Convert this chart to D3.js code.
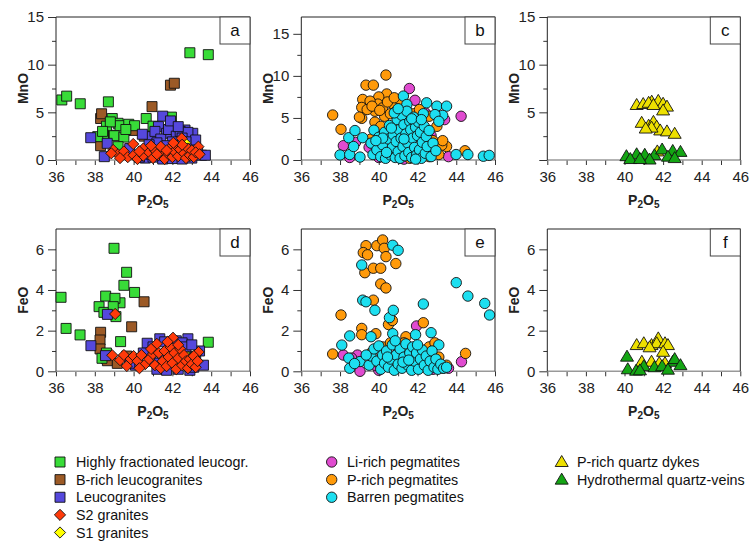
<!DOCTYPE html>
<html><head><meta charset="utf-8">
<script src="https://cdn.jsdelivr.net/npm/d3@7"></script>
<style>
body{margin:0;background:#fff;}
svg{display:block;font-family:"Liberation Sans",Arial,Helvetica,sans-serif;}
</style></head>
<body><svg id="chart" width="750" height="542"></svg>
<script>
// ---------- DATA (P2O5, value) ----------
const xTickValues = [36,37,38,39,40,41,42,43,44,45,46];
const xTickLabels = [36,38,40,42,44,46];
const mnoMajor = [0,5,10,15];
const mnoMinor = [2.5,7.5,12.5];
const feoMajor = [0,2,4,6];
const feoMinor = [1,3,5];
const panelLetters = ["a","b","c","d","e","f"];

const legendGranites = ["Highly fractionated leucogr.","B-rich leucogranites","Leucogranites","S2 granites","S1 granites"];
const legendPegmatites = ["Li-rich pegmatites","P-rich pegmatites","Barren pegmatites"];
const legendQuartz = ["P-rich quartz dykes","Hydrothermal quartz-veins"];

// Panel a (MnO)
const hflMnO = [[36.3,6.3],[36.55,6.7],[37.25,5.9],[38.7,6.1],[42.9,11.25],[43.85,11.05],[40.65,4.35],[41.95,4.5],[38.9,4.35],[39.2,3.85],[39.3,3.6],[39.75,3.75],[40.05,3.6],[38.6,3.55],[38.45,2.6],[38.15,2.45],[39.0,2.55],[39.5,2.4],[41.0,3.55],[39.2,1.4],[38.8,4.0],[39.6,3.2],[38.4,3.0]];
const brichMnO = [[41.9,7.85],[42.1,8.05],[40.95,5.6],[40.55,2.5],[38.3,4.35],[38.35,4.85],[38.3,1.5],[39.8,3.5],[40.0,3.1],[38.95,2.6]];
const leucoMnO = [[41.5,4.6],[41.95,3.55],[40.93,2.45],[41.28,3.5],[41.7,2.8],[42.65,3.15],[43.05,2.8],[43.5,0.5],[43.7,0.5],[41.1,3.0],[41.4,2.2],[41.8,3.2],[42.2,2.5],[42.4,3.0],[42.8,2.9],[42.5,2.3],[42.0,1.9],[41.6,1.5],[41.2,1.8],[40.8,1.6],[40.5,0.9],[40.6,0.2],[41.0,0.3],[41.5,0.1],[42.0,0.15],[42.5,0.1],[43.0,0.2],[43.3,0.8],[42.9,1.5],[42.3,1.2],[41.8,0.9],[41.3,0.8],[40.9,0.6],[43.2,2.1],[42.7,1.9],[38.49,0.35],[38.64,1.75],[37.79,2.34],[39.8,1.2],[40.3,0.3],[40.45,2.7],[41.9,4.1],[42.3,3.5]];
const s1MnO = [[42.65,1.8],[42.3,0.9],[41.6,0.6],[42.9,0.4]];
const s2MnO = [[38.95,1.05],[39.2,0.6],[39.98,1.68],[40.5,1.2],[42.48,2.27],[43.34,1.4],[39.5,0.9],[39.7,0.3],[40.0,0.5],[40.2,0.1],[40.5,0.45],[40.8,0.8],[41.0,0.2],[41.1,1.0],[41.3,0.5],[41.5,0.9],[41.6,0.1],[41.8,0.6],[41.9,1.3],[42.0,0.3],[42.1,0.9],[42.2,1.5],[42.3,0.4],[42.4,1.1],[42.6,0.7],[42.7,0.2],[42.8,1.2],[42.9,0.5],[43.0,1.0],[43.1,0.3],[43.2,0.8],[41.4,1.4],[40.9,1.5],[41.7,1.0],[42.5,1.6],[39.3,0.2],[40.3,0.9],[41.2,0.6],[42.05,1.8],[43.4,0.6],[38.85,0.7]];

// Panel d (FeO)
const hflFeO = [[36.26,3.64],[36.52,2.11],[37.24,1.79],[38.99,6.05],[39.64,4.87],[39.5,4.23],[40.05,3.88],[39.3,3.37],[38.56,3.7],[38.22,3.18],[38.47,2.9],[39.04,3.59],[38.95,3.18],[39.09,2.69],[39.33,1.46],[43.85,1.43],[38.37,0.64],[38.6,0.9],[42.78,0.72]];
const brichFeO = [[40.54,3.42],[39.9,2.19],[38.3,1.92],[38.27,1.54],[38.27,1.1],[38.58,0.64],[38.65,0.52],[39.16,0.39],[39.65,0.75],[39.9,0.48]];
const leucoFeO = [[37.8,1.26],[38.55,0.77],[38.65,2.8],[40.7,1.38],[41.35,1.6],[42.8,1.6],[43.4,1.0],[43.6,0.3],[40.1,0.3],[41.0,1.2],[41.6,1.45],[41.9,1.3],[42.2,1.5],[42.5,1.4],[42.7,1.2],[43.0,1.3],[43.2,0.7],[41.2,0.1],[41.7,0.05],[42.3,0.1],[42.9,0.05],[40.9,0.5],[41.5,0.8],[42.0,0.9],[42.6,0.6],[43.1,0.2],[40.5,0.9],[41.3,0.4],[39.8,0.4],[42.4,0.35]];
const s1FeO = [[42.8,0.7],[42.4,0.4],[41.7,0.3]];
const s2FeO = [[39.05,2.82],[38.9,0.79],[39.65,0.26],[42.03,1.65],[43.35,0.95],[39.3,0.55],[39.5,0.8],[39.85,0.6],[40.0,0.75],[40.2,0.5],[40.4,0.8],[40.6,0.35],[40.8,0.6],[41.0,0.85],[41.1,0.3],[41.3,0.9],[41.4,0.15],[41.5,0.5],[41.6,1.0],[41.7,0.25],[41.8,0.7],[41.9,1.2],[42.0,0.4],[42.1,0.9],[42.2,0.1],[42.3,0.65],[42.4,1.1],[42.5,0.3],[42.6,0.8],[42.7,0.5],[42.8,0.15],[42.9,0.6],[43.0,0.35],[43.1,0.75],[43.2,0.2],[43.3,0.5],[41.2,1.35],[40.9,1.1],[42.3,1.3],[41.75,1.45],[40.3,0.15]];

// Panel b (MnO)
const liMnO = [[41.58,8.5],[41.87,7.1],[44.25,5.2],[38.17,1.7],[38.5,0.3],[40.0,0.3],[43.4,4.8],[42.7,2.9],[43.6,0.4],[38.8,2.1],[39.5,1.5],[42.4,5.6],[41.3,0.1],[42.2,0.8]];
const prichMnO = [[37.62,5.35],[38.05,3.65],[39.34,8.9],[39.72,8.9],[40.37,10.1],[40.41,7.85],[40.0,7.5],[39.17,7.2],[39.12,6.25],[39.95,6.65],[39.55,7.0],[40.72,6.7],[41.1,7.1],[40.9,5.8],[39.12,4.95],[39.8,4.5],[40.3,5.2],[39.8,5.8],[43.5,1.6],[43.25,1.75],[44.45,1.1],[43.1,0.65],[43.0,4.0],[39.0,5.1],[40.2,6.2],[40.6,5.5],[39.4,6.0],[40.1,4.0],[40.45,6.9],[41.4,6.2],[41.8,5.5],[42.0,4.8],[42.6,5.2],[42.3,1.2],[42.6,0.4],[42.8,2.3],[41.6,0.2],[40.6,0.9],[39.6,2.5],[41.2,3.2],[42.1,6.0],[40.8,7.4],[39.65,6.4],[40.05,5.9],[43.3,2.3]];
const barrenMnO = [[38.0,0.6],[38.5,0.65],[38.45,2.65],[38.77,3.5],[38.7,1.6],[39.03,0.35],[39.17,2.65],[39.7,0.65],[39.75,3.55],[43.99,0.65],[44.6,0.65],[45.4,0.45],[45.7,0.55],[41.27,7.6],[42.47,6.8],[43.0,6.4],[43.5,6.4],[43.3,5.3],[41.45,6.6],[39.6,2.0],[39.9,1.2],[40.0,2.7],[40.1,0.4],[40.2,1.8],[40.3,3.3],[40.35,0.2],[40.5,2.5],[40.55,4.1],[40.6,0.6],[40.7,1.5],[40.75,3.0],[40.85,0.3],[40.9,2.2],[40.95,4.8],[41.0,1.0],[41.05,3.6],[41.1,0.2],[41.15,2.6],[41.2,5.3],[41.25,1.6],[41.3,4.2],[41.35,0.5],[41.4,3.1],[41.45,5.8],[41.5,2.0],[41.55,0.9],[41.6,4.6],[41.65,3.6],[41.7,0.3],[41.75,2.6],[41.8,5.1],[41.85,1.5],[41.9,3.9],[41.95,0.6],[42.0,2.9],[42.05,4.5],[42.1,1.2],[42.15,3.3],[42.2,0.2],[42.25,2.1],[42.3,5.5],[42.35,4.0],[42.4,0.8],[42.45,2.8],[42.5,1.6],[42.6,3.5],[42.7,0.4],[42.8,2.0],[42.9,5.4],[42.95,1.1],[43.1,4.6],[40.4,0.9],[40.8,5.6],[41.0,6.1],[40.65,3.8],[41.7,4.9],[41.3,2.5],[41.9,0.1],[40.2,2.6],[42.2,4.8],[39.85,2.3]];

// Panel e (FeO)
const liFeO = [[41.95,2.23],[44.27,0.47],[38.17,0.8],[38.9,0.8],[39.03,0.0],[40.0,0.05],[38.6,0.65],[42.8,0.1],[43.6,0.15],[41.1,0.6],[39.8,0.3]];
const prichFeO = [[37.62,0.85],[38.05,2.77],[39.34,6.18],[39.2,5.84],[39.42,5.73],[39.28,4.85],[39.72,5.07],[39.9,6.18],[40.2,6.46],[40.28,6.05],[40.37,5.64],[40.1,5.07],[40.88,5.3],[40.1,4.3],[40.37,4.1],[39.72,3.5],[42.3,2.39],[40.5,2.3],[39.12,2.11],[39.12,1.8],[44.48,0.88],[39.85,1.85],[40.2,1.2],[40.6,1.4],[41.0,0.9],[41.4,1.7],[42.6,1.2],[42.9,1.4],[43.1,0.7],[43.5,0.3],[40.0,0.4],[41.8,0.3],[42.4,0.6],[40.7,2.5],[39.6,0.9],[43.3,0.15],[41.3,1.4]];
const barrenFeO = [[38.09,1.29],[38.5,1.74],[38.45,0.65],[38.5,0.15],[39.03,0.48],[38.75,0.38],[39.12,5.23],[39.17,3.5],[39.34,3.42],[39.8,3.0],[40.72,6.2],[41.0,5.95],[40.55,2.64],[40.75,3.0],[44.0,4.36],[44.6,3.7],[45.47,3.34],[45.72,2.77],[42.3,3.31],[42.7,1.9],[43.1,1.3],[40.72,1.85],[41.9,1.8],[39.6,1.7],[39.5,0.3],[39.6,0.75],[39.75,1.1],[39.9,0.5],[40.0,1.25],[40.1,0.1],[40.2,0.8],[40.3,0.4],[40.4,1.0],[40.5,0.2],[40.6,0.6],[40.7,1.3],[40.8,0.05],[40.9,0.8],[41.0,0.35],[41.1,1.1],[41.2,0.15],[41.3,0.7],[41.4,1.35],[41.5,0.3],[41.6,0.9],[41.7,0.05],[41.75,1.2],[41.85,0.5],[41.95,0.9],[42.05,0.1],[42.15,0.6],[42.25,1.05],[42.35,0.3],[42.45,0.75],[42.55,0.05],[42.65,0.5],[42.75,1.0],[42.85,0.2],[42.95,0.6],[43.05,0.1],[43.2,0.35],[43.35,0.15],[43.5,0.2],[40.45,0.7],[41.25,0.45],[42.0,1.3],[41.55,0.55],[39.35,0.8],[40.85,1.5]];

// Panel c (MnO)
const dykeMnO = [[40.63,5.77],[40.97,5.87],[41.41,6.12],[41.75,6.2],[42.0,5.9],[42.2,5.6],[41.25,6.0],[41.5,5.77],[42.0,5.2],[40.89,3.9],[41.25,3.6],[41.5,4.0],[41.67,3.5],[41.85,3.1],[42.2,3.0],[42.6,2.75],[41.4,3.4],[41.1,3.3],[41.7,0.9]];
const veinMnO = [[40.1,0.4],[40.63,0.6],[41.05,0.55],[41.55,0.5],[41.95,1.1],[42.5,0.95],[42.9,0.85],[42.25,0.35],[40.3,0.1],[41.3,0.05],[42.6,0.2],[40.8,0.1]];
// Panel f (FeO)
const dykeFeO = [[40.63,1.29],[41.0,1.38],[41.4,1.29],[41.75,1.62],[41.67,1.38],[42.1,1.38],[42.25,1.29],[41.3,1.18],[42.0,0.96],[40.9,0.47],[41.4,0.47],[41.8,0.4],[42.1,0.4]];
const veinFeO = [[40.13,0.72],[40.17,0.1],[40.6,0.03],[41.0,0.25],[41.55,0.2],[41.95,0.25],[42.5,0.47],[42.6,0.6],[42.9,0.3],[42.25,0.08],[40.8,0.05]];

// ---------- STYLES ----------
const style = {
  hfl:{shape:"square",fill:"#38dc38"},
  brich:{shape:"square",fill:"#9c5a26"},
  leuco:{shape:"square",fill:"#5548dc"},
  s2:{shape:"diamond",fill:"#ff3a0a"},
  s1:{shape:"diamond",fill:"#ffff00"},
  li:{shape:"circle",fill:"#e04bd0"},
  prich:{shape:"circle",fill:"#ff9a0a"},
  barren:{shape:"circle",fill:"#1ddff0"},
  dyke:{shape:"triangle",fill:"#ede000"},
  vein:{shape:"triangle",fill:"#14a514"}
};
function shapePath(s){
  if(s==="square") return "M-5,-5h10v10h-10Z";
  if(s==="diamond") return "M0,-5.6L5.6,0L0,5.6L-5.6,0Z";
  if(s==="circle"){const r=5.2;return `M${r},0A${r},${r} 0 1,1 ${-r},0A${r},${r} 0 1,1 ${r},0Z`;}
  if(s==="triangle") return "M0,-6.5L6.5,4.5L-6.5,4.5Z";
}

const svg = d3.select("#chart");
svg.append("rect").attr("width",750).attr("height",542).attr("fill","#fff");

const cols = [[56,250],[301.3,495],[547.3,740.3]];
const rowsMn = {top:17,bottom:160};
const rowsFe = {top:229,bottom:371.3};

const panels = [
 {letter:"a",col:0,row:rowsMn,ymax:15,ylab:"MnO",major:mnoMajor,minor:mnoMinor,hide0:false,
  series:[["brich",brichMnO],["hfl",hflMnO],["leuco",leucoMnO],["s1",s1MnO],["s2",s2MnO]]},
 {letter:"b",col:1,row:rowsMn,ymax:17,ylab:"MnO",major:mnoMajor,minor:mnoMinor,hide0:false,
  series:[["li",liMnO],["prich",prichMnO],["barren",barrenMnO]]},
 {letter:"c",col:2,row:rowsMn,ymax:15,ylab:"MnO",major:mnoMajor,minor:mnoMinor,hide0:true,
  series:[["dyke",dykeMnO],["vein",veinMnO]]},
 {letter:"d",col:0,row:rowsFe,ymax:7,ylab:"FeO",major:feoMajor,minor:feoMinor,hide0:false,
  series:[["brich",brichFeO],["hfl",hflFeO],["leuco",leucoFeO],["s1",s1FeO],["s2",s2FeO]]},
 {letter:"e",col:1,row:rowsFe,ymax:7,ylab:"FeO",major:feoMajor,minor:feoMinor,hide0:false,
  series:[["li",liFeO],["prich",prichFeO],["barren",barrenFeO]]},
 {letter:"f",col:2,row:rowsFe,ymax:7,ylab:"FeO",major:feoMajor,minor:feoMinor,hide0:false,
  series:[["dyke",dykeFeO],["vein",veinFeO]]}
];

panels.forEach(p=>{
  const [x0,x1] = cols[p.col];
  const y0 = p.row.top, y1 = p.row.bottom;
  const x = d3.scaleLinear().domain([36,46]).range([x0,x1]);
  const y = d3.scaleLinear().domain([0,p.ymax]).range([y1,y0]);
  const g = svg.append("g");

  // x axis
  const xa = g.append("g").attr("transform",`translate(0,${y1})`)
    .call(d3.axisBottom(x).tickValues(xTickValues).tickSize(5).tickPadding(6)
      .tickFormat(d=> xTickLabels.includes(d)? d : ""));
  xa.select(".domain").remove();
  xa.selectAll("text").attr("font-size",15).attr("font-family","Liberation Sans, Arial, sans-serif").attr("fill","#222");
  xa.selectAll("line").attr("stroke","#333");

  // y axis major
  const ya = g.append("g").attr("transform",`translate(${x0},0)`)
    .call(d3.axisLeft(y).tickValues(p.major).tickSize(8).tickPadding(4)
      .tickFormat(d=> (p.hide0 && d===0) ? "" : d));
  ya.select(".domain").remove();
  ya.selectAll("text").attr("font-size",15).attr("font-family","Liberation Sans, Arial, sans-serif").attr("fill","#222");
  ya.selectAll("line").attr("stroke","#333");
  const ym = g.append("g").attr("transform",`translate(${x0},0)`)
    .call(d3.axisLeft(y).tickValues(p.minor).tickSize(4).tickFormat(""));
  ym.select(".domain").remove();
  ym.selectAll("line").attr("stroke","#333");

  // frame
  g.append("line").attr("x1",x0).attr("x2",x1).attr("y1",y1).attr("y2",y1).attr("stroke","#999").attr("stroke-width",1.5);
  g.append("path").attr("d",`M${x0},${y1}V${y0}H${x1}V${y1}`).attr("fill","none").attr("stroke","#222").attr("stroke-width",1);

  // points
  p.series.forEach(([key,data])=>{
    const st = style[key];
    g.append("g").selectAll("path").data(data).join("path")
      .attr("d",shapePath(st.shape))
      .attr("transform",d=>`translate(${x(d[0])},${y(d[1])})`)
      .attr("fill",st.fill).attr("stroke","#111").attr("stroke-width",0.9);
  });

  // label box
  g.append("rect").attr("x",x1-30).attr("y",y0).attr("width",30).attr("height",27)
    .attr("fill","#fff").attr("stroke","#444").attr("stroke-width",1);
  g.append("text").attr("x",x1-15).attr("y",y0+19).attr("text-anchor","middle")
    .attr("font-size",17).attr("fill","#111").text(p.letter);

  // axis titles
  const xt = g.append("text").attr("x",(x0+x1)/2).attr("y",y1+45).attr("text-anchor","middle")
    .attr("font-size",14).attr("font-weight","bold").attr("fill","#222");
  xt.append("tspan").text("P");
  xt.append("tspan").attr("font-size",10).attr("dy",3).text("2");
  xt.append("tspan").attr("dy",-3).text("O");
  xt.append("tspan").attr("font-size",10).attr("dy",3).text("5");
  g.append("text").attr("transform",`translate(${x0-33},${(y0+y1)/2}) rotate(-90)`)
    .attr("text-anchor","middle").attr("dy","0.35em")
    .attr("font-size",14).attr("font-weight","bold").attr("fill","#222").text(p.ylab);
});

// ---------- LEGEND ----------
const legendCols = [
  {mx:60,tx:76,items:legendGranites,keys:["hfl","brich","leuco","s2","s1"]},
  {mx:331.7,tx:347,items:legendPegmatites,keys:["li","prich","barren"]},
  {mx:561.7,tx:577,items:legendQuartz,keys:["dyke","vein"]}
];
const rowY = d3.scaleLinear().domain([0,4]).range([462,532.5]);
legendCols.forEach(c=>{
  c.items.forEach((label,i)=>{
    const st = style[c.keys[i]];
    svg.append("path").attr("d",shapePath(st.shape))
      .attr("transform",`translate(${c.mx},${rowY(i)})`)
      .attr("fill",st.fill).attr("stroke","#111").attr("stroke-width",0.9);
    svg.append("text").attr("x",c.tx).attr("y",rowY(i)+5)
      .attr("font-size",14.3).attr("fill","#111").text(label);
  });
});
</script></body></html>
